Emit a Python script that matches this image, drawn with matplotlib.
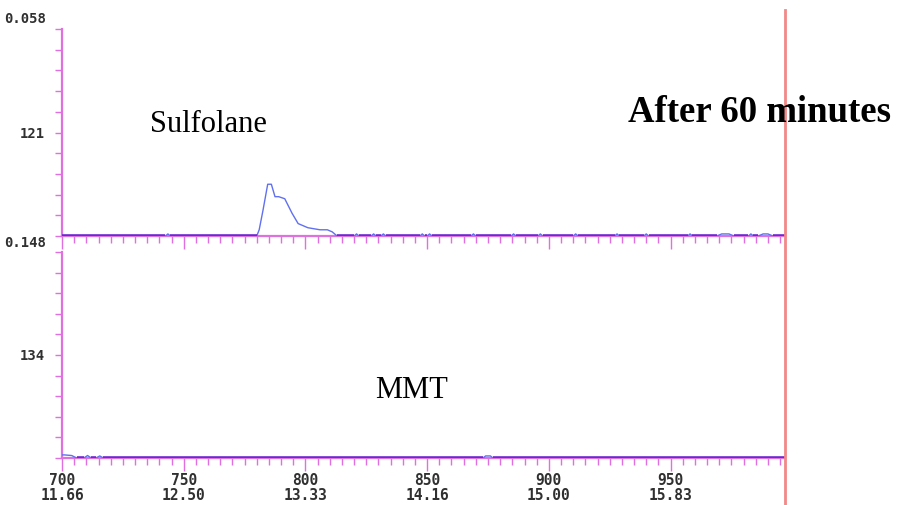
import numpy as np
import matplotlib.pyplot as plt
from matplotlib.lines import Line2D

# Scan numbers and relative intensity (% of panel height)
sulf_scan = [700, 742.5, 743.5, 744.5, 780, 781, 782.5, 784.5, 786, 787.5, 789, 791.5,
             794.5, 797, 801, 806, 809, 811, 813, 820, 821, 822, 827, 828, 829,
             831, 832, 833, 847, 848, 849, 850, 851, 852, 868, 869, 870, 884.5, 885.5,
             886.5, 895.5, 896.5, 897.5, 910, 911, 912, 927, 928, 929, 939, 940, 941,
             957, 958, 959, 969, 971, 974, 976, 977, 982, 983, 984, 986, 988, 990,
             992, 993, 997]
sulf_val = [0, 0, 1, 0, 0, 3, 12, 25, 25, 19, 19, 18,
            11, 6, 4, 3, 3, 2, 0, 0, 1, 0, 0, 1, 0,
            0, 1, 0, 0, 1, 0, 0, 1, 0, 0, 1, 0, 0, 1,
            0, 0, 1, 0, 0, 1, 0, 0, 1, 0, 0, 1, 0,
            0, 1, 0, 0, 1, 1, 0, 0, 0, 1, 0, 0, 1, 1,
            0, 0, 0]

mmt_scan = [700, 701, 704, 706, 707, 709, 710.5, 712, 714, 715.5, 717, 873, 874, 876, 877, 997]
mmt_val = [1.5, 1.5, 1.2, 0, 0, 0, 1.2, 0, 0, 1, 0, 0, 1, 1, 0, 0]

scan_ticks = [700, 750, 800, 850, 900, 950]
time_labels = ["11.66", "12.50", "13.33", "14.16", "15.00", "15.83"]
x_range = (700, 997)

mag = "#e070e0"
purple = "#6a2ad0"
blue = "#6070f0"
lab_font = dict(family="DejaVu Sans Mono", fontweight="bold", color="#303030")

fig = plt.figure(figsize=(8.97, 5.05), dpi=100)
W, H = 897, 505
ax1 = fig.add_axes([62 / W, 1 - 236 / H, (785 - 62) / W, (236 - 29) / H])
ax2 = fig.add_axes([62 / W, 1 - 458 / H, (785 - 62) / W, (458 - 252) / H])


def style(ax, scans, vals, ylab, show_x):
    s = np.array(scans, dtype=float)
    v = np.array(vals, dtype=float)
    ax.plot(s, v, color=blue, lw=1.0, zorder=3)
    # where the trace sits on the baseline it blends with the axis into purple
    base = np.where(v <= 0, v, np.nan)
    ax.plot(s, base, color=purple, lw=2.6, zorder=4, solid_capstyle="butt")
    ax.set_xlim(*x_range)
    ax.set_ylim(0, 100)
    for sp in ["top", "right"]:
        ax.spines[sp].set_visible(False)
    for sp in ["left", "bottom"]:
        ax.spines[sp].set_color(mag)
        ax.spines[sp].set_linewidth(1.6)
    ax.set_yticks(np.arange(0, 101, 10))
    ax.set_yticklabels(["" if t != 50 else ylab for t in range(0, 101, 10)],
                       fontsize=10, **lab_font)
    ax.tick_params(axis="y", direction="out", length=5, width=1, color=mag, pad=7)
    ax.set_xticks(scan_ticks)
    ax.set_xticks(np.arange(700, 998, 5), minor=True)
    ax.tick_params(axis="x", which="major", direction="out", length=9, width=1, color=mag, pad=2)
    ax.tick_params(axis="x", which="minor", direction="out", length=5, width=1, color=mag)
    if show_x:
        ax.set_xticklabels([f"{s}\n{t}" for s, t in zip(scan_ticks, time_labels)],
                           linespacing=0.95, fontsize=10.5, **lab_font)
    else:
        ax.set_xticklabels([])


style(ax1, sulf_scan, sulf_val, "121", False)
style(ax2, mmt_scan, mmt_val, "134", True)

fig.text(4 / W, 1 - 19 / H, "0.058", ha="left", va="center", fontsize=10, **lab_font)
fig.text(4 / W, 1 - 243 / H, "0.148", ha="left", va="center", fontsize=10, **lab_font)

fig.text(208 / W, 1 - 125 / H, "Sulfolane", ha="center", va="center",
         family="Liberation Serif", fontsize=22)
fig.text(412 / W, 1 - 390 / H, "MMT", ha="center", va="center",
         family="Liberation Serif", fontsize=22)
fig.text(760 / W, 1 - 113 / H, "After 60 minutes", ha="center", va="center",
         family="Liberation Serif", fontweight="bold", fontsize=26.5)

fig.add_artist(Line2D([785 / W, 785 / W], [0, 1 - 10 / H], color="#f28888", lw=2,
                      transform=fig.transFigure))

fig.savefig("out.png", dpi=100)
